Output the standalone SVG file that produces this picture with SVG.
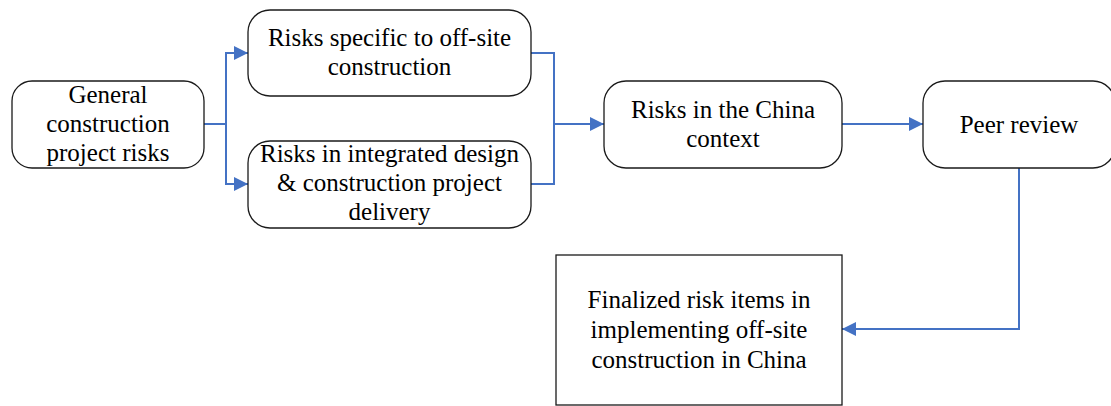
<svg xmlns="http://www.w3.org/2000/svg" width="1111" height="406" viewBox="0 0 1111 406">
  <defs>
    <marker id="arrow" markerUnits="userSpaceOnUse" markerWidth="14" markerHeight="14" viewBox="0 0 14 14" refX="14" refY="7" orient="auto">
      <path d="M0,0 L14,7 L0,14 z" fill="#4472C4"/>
    </marker>
    <style>
      .box { fill: #ffffff; stroke: #1a1a1a; stroke-width: 1.3; }
      .lbl { font-size: 25px; fill: #000000; text-anchor: middle; }
      .conn { fill: none; stroke: #4472C4; stroke-width: 2; }
    </style>
  </defs>
  <rect width="1111" height="406" fill="#ffffff"/>

  <g id="connectors">
    <path class="conn" d="M204,124 H226 V53 H248" marker-end="url(#arrow)"/>
    <path class="conn" d="M226,124 V184 H248" marker-end="url(#arrow)"/>
    <path class="conn" d="M531,53 H554 V124 H604" marker-end="url(#arrow)"/>
    <path class="conn" d="M531,184 H554 V124"/>
    <path class="conn" d="M842,124 H923" marker-end="url(#arrow)"/>
    <path class="conn" d="M1019,168 V329 H842" marker-end="url(#arrow)"/>
  </g>

  <g font-family="'Liberation Serif', Tinos, 'Times New Roman', 'DejaVu Serif', serif">
  <g id="n-general">
    <rect class="box" x="12" y="81" width="192" height="87" rx="20"/>
    <text class="lbl" x="108" y="103">General</text>
    <text class="lbl" x="108" y="132">construction</text>
    <text class="lbl" x="108" y="161">project risks</text>
  </g>

  <g id="n-offsite">
    <rect class="box" x="248" y="10" width="283" height="86" rx="22"/>
    <text class="lbl" x="389.5" y="46">Risks specific to off-site</text>
    <text class="lbl" x="389.5" y="75">construction</text>
  </g>

  <g id="n-integrated">
    <rect class="box" x="248" y="141" width="283" height="87" rx="22"/>
    <text class="lbl" x="389.5" y="162">Risks in integrated design</text>
    <text class="lbl" x="389.5" y="191">&amp; construction project</text>
    <text class="lbl" x="389.5" y="220">delivery</text>
  </g>

  <g id="n-china">
    <rect class="box" x="604" y="81" width="238" height="87" rx="22"/>
    <text class="lbl" x="723" y="118">Risks in the China</text>
    <text class="lbl" x="723" y="147">context</text>
  </g>

  <g id="n-peer">
    <rect class="box" x="923" y="81" width="192" height="87" rx="22"/>
    <text class="lbl" x="1019" y="133">Peer review</text>
  </g>

  <g id="n-final">
    <rect class="box" x="556" y="255" width="286" height="150"/>
    <text class="lbl" x="699" y="308">Finalized risk items in</text>
    <text class="lbl" x="699" y="338">implementing off-site</text>
    <text class="lbl" x="699" y="368">construction in China</text>
  </g>
  </g>
</svg>
